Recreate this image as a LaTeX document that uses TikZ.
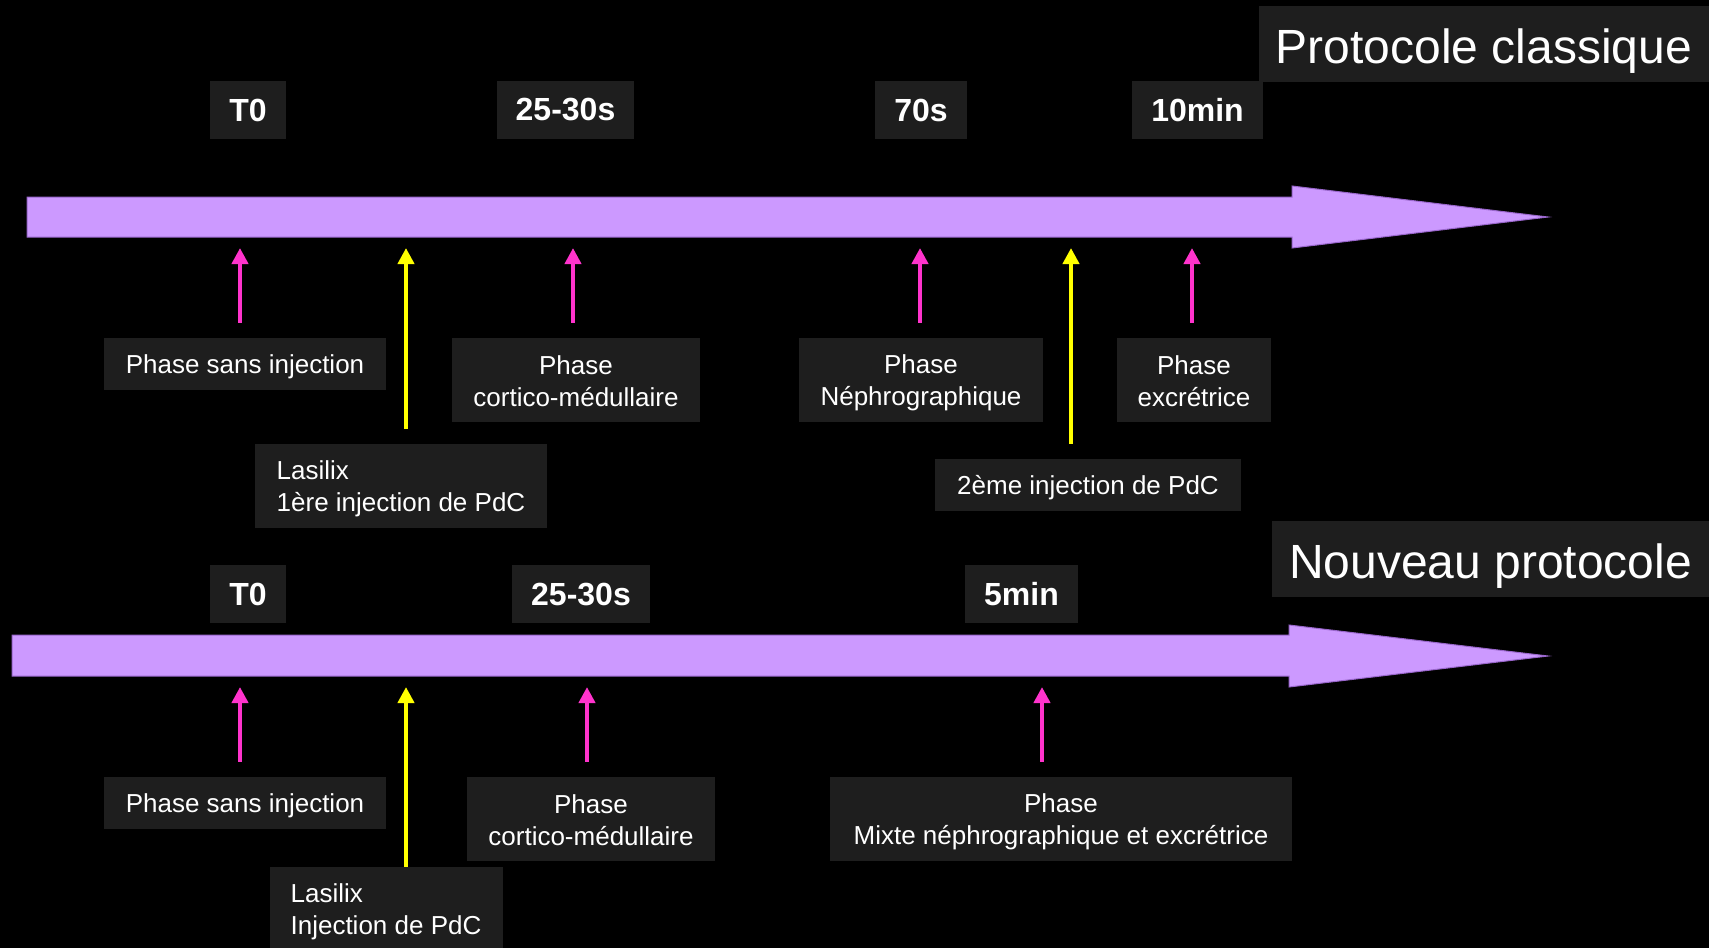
\documentclass[tikz,border=0pt]{standalone}
\usepackage{fontspec}
\setmainfont{Liberation Sans}
\usetikzlibrary{arrows.meta}
\definecolor{boxgray}{HTML}{1E1E1E}
\definecolor{lav}{HTML}{CC99FF}
\definecolor{lavedge}{HTML}{9966CC}
\definecolor{pinkar}{HTML}{FF33CC}
\definecolor{yellowar}{HTML}{FFFF00}
\newcommand\lnstrut{\rule[-4.5pt]{0pt}{29.5pt}}
\begin{document}
\begin{tikzpicture}[x=1pt,y=-1pt,
  box/.style={fill=boxgray, text=white, inner sep=0pt, align=center, font=\fontsize{26}{32}\selectfont},
  lbox/.style={fill=boxgray, text=white, inner sep=0pt, align=left, font=\fontsize{26}{32}\selectfont},
  timebox/.style={fill=boxgray, text=white, inner sep=0pt, font=\fontsize{32}{38}\selectfont\bfseries, minimum height=58pt},
  titlebox/.style={fill=boxgray, text=white, inner sep=0pt, font=\fontsize{48}{56}\selectfont, minimum height=76pt, text height=44pt, text depth=6pt},
  pk/.style={draw=pinkar, line width=4.5pt, -{Triangle[width=16pt,length=16pt]}},
  ye/.style={draw=yellowar, line width=4.5pt, -{Triangle[width=16pt,length=16pt]}},
  tbar/.style={fill=lav, draw=lavedge, line width=1pt}
]
\useasboundingbox (0,0) rectangle (1709,948);
\fill[black] (0,0) rectangle (1709,948);

% ---------- Protocole classique ----------
\draw[tbar] (27,197) -- (1292,197) -- (1292,186) -- (1548,217) -- (1292,248) -- (1292,237) -- (27,237) -- cycle;

\node[titlebox, minimum width=450pt] (title1) at (1484,44) {Protocole classique};
\node[timebox, minimum width=76pt]  (t0a)  at (248,110) {T0};
\node[timebox, minimum width=137pt] (t25a) at (565.5,110) {25-30s};
\node[timebox, minimum width=92pt]  (t70)  at (921,110) {70s};
\node[timebox, minimum width=131pt] (t10)  at (1197.5,110) {10min};

\node[box, minimum width=282pt, minimum height=52pt] (sansA) at (245,364) {\lnstrut Phase sans injection};
\node[box, minimum width=248pt, minimum height=84pt] (cortA) at (576,380) {\lnstrut Phase\\\lnstrut cortico-médullaire};
\node[lbox, minimum width=292pt, minimum height=84pt] (lasA) at (401,486) {\lnstrut Lasilix\\\lnstrut 1ère injection de PdC};
\node[box, minimum width=244pt, minimum height=84pt] (nephA) at (921,380) {\lnstrut Phase\\\lnstrut Néphrographique};
\node[box, minimum width=154pt, minimum height=84pt] (excA) at (1194,380) {\lnstrut Phase\\\lnstrut excrétrice};
\node[box, minimum width=306pt, minimum height=52pt] (deuxA) at (1088,485) {\lnstrut 2ème injection de PdC};

\coordinate (ua1) at (240,248);
\coordinate (ua2) at (406,248);
\coordinate (ua3) at (573,248);
\coordinate (ua4) at (920,248);
\coordinate (ua5) at (1071,248);
\coordinate (ua6) at (1192,248);

\draw[pk, shorten <=15pt] (ua1 |- sansA.north) -- (ua1);
\draw[ye, shorten <=15pt] (ua2 |- lasA.north) -- (ua2);
\draw[pk, shorten <=15pt] (ua3 |- cortA.north) -- (ua3);
\draw[pk, shorten <=15pt] (ua4 |- nephA.north) -- (ua4);
\draw[ye, shorten <=15pt] (ua5 |- deuxA.north) -- (ua5);
\draw[pk, shorten <=15pt] (ua6 |- excA.north) -- (ua6);

% ---------- Nouveau protocole ----------
\draw[tbar] (12,635) -- (1289,635) -- (1289,625) -- (1548,656) -- (1289,687) -- (1289,676) -- (12,676) -- cycle;

\node[titlebox, minimum width=437pt] (title2) at (1490.5,559) {Nouveau protocole};
\node[timebox, minimum width=76pt]  (t0b)  at (248,594) {T0};
\node[timebox, minimum width=138pt] (t25b) at (581,594) {25-30s};
\node[timebox, minimum width=113pt] (t5)   at (1021.5,594) {5min};

\node[box, minimum width=282pt, minimum height=52pt] (sansB) at (245,803) {\lnstrut Phase sans injection};
\node[box, minimum width=248pt, minimum height=84pt] (cortB) at (591,819) {\lnstrut Phase\\\lnstrut cortico-médullaire};
\node[lbox, minimum width=233pt, minimum height=84pt] (lasB) at (386,909) {\lnstrut Lasilix\\\lnstrut Injection de PdC};
\node[box, minimum width=462pt, minimum height=84pt] (mixB) at (1061,819) {\lnstrut Phase\\\lnstrut Mixte néphrographique et excrétrice};

\coordinate (ub1) at (240,687);
\coordinate (ub2) at (406,687);
\coordinate (ub3) at (587,687);
\coordinate (ub4) at (1042,687);

\draw[pk, shorten <=15pt] (ub1 |- sansB.north) -- (ub1);
\draw[ye] (ub2 |- lasB.north) -- (ub2);
\draw[pk, shorten <=15pt] (ub3 |- cortB.north) -- (ub3);
\draw[pk, shorten <=15pt] (ub4 |- mixB.north) -- (ub4);
\end{tikzpicture}
\end{document}
